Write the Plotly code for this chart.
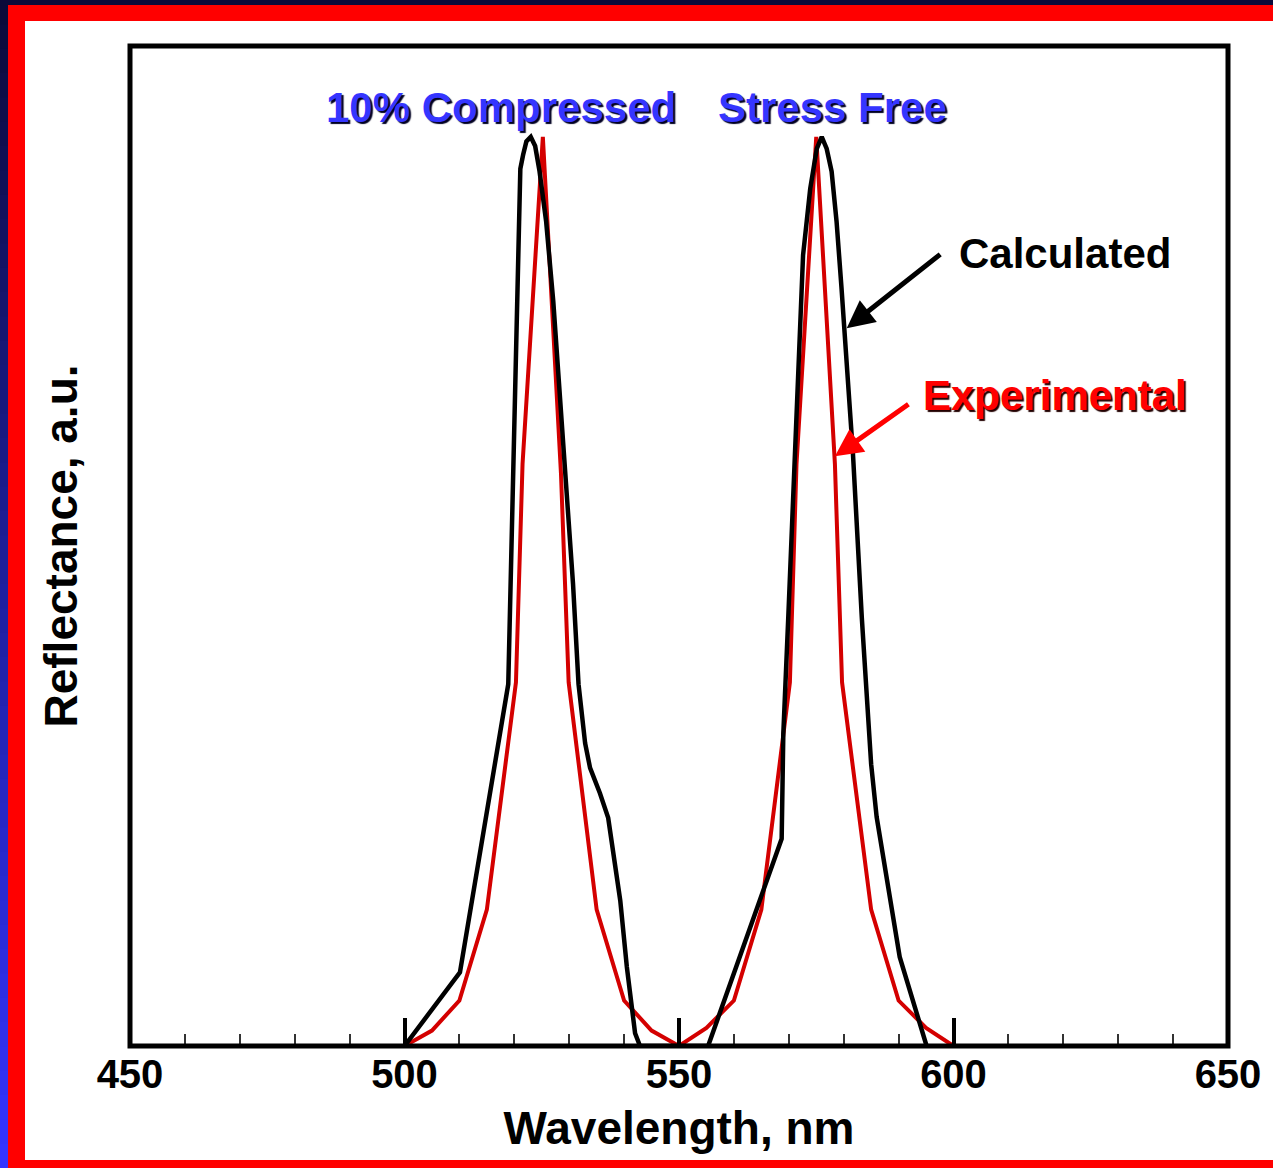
import plotly.graph_objects as go

# ---- data -------------------------------------------------------------
# Experimental reflectance spectrum (two peaks: compressed and stress-free)
exp_wl = [500, 505, 510, 515, 520.3, 521.5, 525.2, 528.5, 529.9, 535, 540, 545,
          550, 555, 560, 565, 570.2, 571.4, 575.0, 578.4, 579.7, 585, 590, 595, 600]
exp_r = [0, 0.017, 0.05, 0.15, 0.40, 0.64, 1.0, 0.63, 0.40, 0.15, 0.05, 0.017,
         0, 0.02, 0.05, 0.15, 0.40, 0.64, 1.0, 0.64, 0.40, 0.15, 0.05, 0.02, 0]

# Calculated reflectance spectrum
calc_wl = [500, 510.1, 518.9, 519.5, 519.9, 520.4, 520.7, 521.1, 521.6, 522.2, 523.0,
           523.8, 524.6, 525.8, 527.1, 528.2, 529.4, 530.7, 531.7, 532.9, 533.8, 535.6,
           537.1, 538.0, 539.3, 540.5, 542.0, 542.9,
           555.3, 568.7, 569.0, 569.9, 571.0, 571.7, 572.6, 573.9, 575.1, 576.0, 576.9,
           577.8, 578.7, 579.6, 580.4, 581.1, 581.7, 583.3, 585.0, 586.0, 590.2, 595.1]
calc_r = [0, 0.081, 0.398, 0.544, 0.632, 0.761, 0.87, 0.965, 0.98, 0.995, 1.0,
          0.99, 0.962, 0.907, 0.819, 0.723, 0.632, 0.508, 0.398, 0.333, 0.306, 0.278,
          0.251, 0.212, 0.160, 0.087, 0.014, 0,
          0, 0.228, 0.343, 0.471, 0.632, 0.76, 0.87, 0.943, 0.987, 1.0, 0.987,
          0.962, 0.907, 0.834, 0.761, 0.687, 0.65, 0.471, 0.31, 0.252, 0.098, 0]

x_ticks = [450, 500, 550, 600, 650]
x_ticklabels = ["450", "500", "550", "600", "650"]

# ---- page geometry ------------------------------------------------------
W, H = 1273, 1168
ML, MR, MT, MB = 130, 45, 46, 122
PW, PH = W - ML - MR, H - MT - MB


def px(x):
    return (x - ML) / PW


def py(y):
    return (H - MB - y) / PH


FONT = "Liberation Sans, Arial, sans-serif"

fig = go.Figure()
fig.add_trace(go.Scatter(x=exp_wl, y=exp_r, mode="lines", name="Experimental",
                         line=dict(color="#d40000", width=4)))
fig.add_trace(go.Scatter(x=calc_wl, y=calc_r, mode="lines", name="Calculated",
                         line=dict(color="#000000", width=4.5)))

# slide-style frame: navy edge, red border, white page
shapes = [
    dict(type="rect", xref="paper", yref="paper", layer="below",
         x0=px(25), x1=px(W + 5), y0=py(1160), y1=py(21),
         fillcolor="white", line=dict(width=0)),
    dict(type="rect", xref="paper", yref="paper", layer="below",
         x0=px(-5), x1=px(W + 5), y0=py(5), y1=py(-5),
         fillcolor="#0a0a3a", line=dict(width=0)),
]
n_steps = 48
c0, c1 = (10, 10, 58), (52, 52, 255)
for i in range(n_steps):
    t = i / (n_steps - 1)
    col = "rgb({},{},{})".format(*[round(a + (b - a) * t) for a, b in zip(c0, c1)])
    y_top = H * i / n_steps
    y_bot = H * (i + 1) / n_steps + 1
    shapes.append(dict(type="rect", xref="paper", yref="paper", layer="below",
                       x0=px(-5), x1=px(8), y0=py(y_bot), y1=py(y_top),
                       fillcolor=col, line=dict(width=0)))

# plot frame centred on the plot-area edges, drawn over the curves
shapes.append(dict(type="rect", xref="paper", yref="paper", layer="above",
                   x0=0, x1=1, y0=0, y1=1,
                   line=dict(color="black", width=5), fillcolor="rgba(0,0,0,0)"))

annotations = [
    dict(x=517.6, y=1.032, xref="x", yref="y", text="<b>10% Compressed</b>",
         showarrow=False,
         font=dict(family=FONT, size=42, color="#3535ff", shadow="2px 2px 1px #000022")),
    dict(x=577.9, y=1.032, xref="x", yref="y", text="<b>Stress Free</b>",
         showarrow=False,
         font=dict(family=FONT, size=42, color="#3535ff", shadow="2px 2px 1px #000022")),
    dict(x=620.3, y=0.872, xref="x", yref="y", text="<b>Calculated</b>",
         showarrow=False, font=dict(family=FONT, size=42, color="#000000")),
    dict(x=618.5, y=0.7155, xref="x", yref="y", text="<b>Experimental</b>",
         showarrow=False,
         font=dict(family=FONT, size=42, color="#ff0000", shadow="2px 2px 1px #220000")),
    # arrows pointing at the curves
    dict(x=580.55, y=0.7896, xref="x", yref="y", text="", showarrow=True,
         ax=95, ay=-75, arrowhead=2, arrowsize=1.1, arrowwidth=5,
         arrowcolor="#000000", standoff=0),
    dict(x=578.4, y=0.6487, xref="x", yref="y", text="", showarrow=True,
         ax=75, ay=-53, arrowhead=2, arrowsize=1.1, arrowwidth=5,
         arrowcolor="#ff0000", standoff=0),
]

fig.update_layout(
    width=W, height=H,
    margin=dict(l=ML, r=MR, t=MT, b=MB, pad=0),
    paper_bgcolor="#ff0000",
    plot_bgcolor="white",
    showlegend=False,
    shapes=shapes,
    annotations=annotations,
    font=dict(family=FONT, color="black"),
)

fig.update_xaxes(
    range=[450, 650],
    tickvals=x_ticks, ticktext=x_ticklabels,
    ticks="inside", ticklen=28, tickwidth=3.5, tickcolor="black",
    minor=dict(dtick=10, tick0=450, ticks="inside", ticklen=12,
               tickwidth=1.5, tickcolor="#333333"),
    tickfont=dict(family=FONT, size=40, color="black", weight="bold"),
    ticklabelstandoff=1,
    showline=False,
    showgrid=False, zeroline=False,
    title=dict(text="Wavelength, nm", standoff=16,
               font=dict(family=FONT, size=46, color="black", weight="bold")),
)
fig.update_yaxes(
    range=[0, 1.1],
    showticklabels=False, ticks="",
    showline=False,
    showgrid=False, zeroline=False,
    title=dict(text="Reflectance, a.u.", standoff=36,
               font=dict(family=FONT, size=46, color="black", weight="bold")),
)

fig.write_html("out.html")
